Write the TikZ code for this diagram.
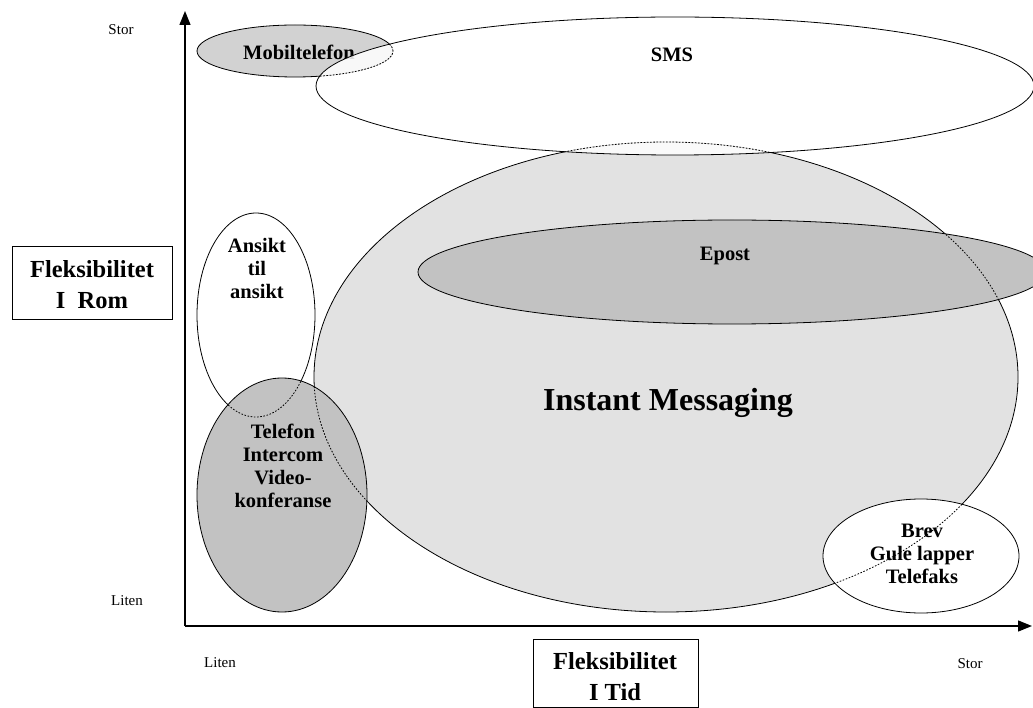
\documentclass[tikz,border=0pt]{standalone}
\usepackage{fontspec}
\setmainfont{Liberation Serif}
\usetikzlibrary{arrows.meta}

\definecolor{imgrey}{RGB}{226,226,226}
\definecolor{darkgrey}{RGB}{194,194,194}
\definecolor{mobgrey}{RGB}{210,210,210}

% ellipse outlines, in pixel-like units
\newcommand\elIM{(666,377) ellipse [x radius=352pt, y radius=235pt]}
\newcommand\elSMS{(675,86) ellipse [x radius=359pt, y radius=69pt]}
\newcommand\elMob{(295,51) ellipse [x radius=98pt, y radius=26pt]}
\newcommand\elEpost{(732,272) ellipse [x radius=314pt, y radius=52pt]}
\newcommand\elAnsikt{(256,315) ellipse [x radius=59pt, y radius=102pt]}
\newcommand\elTlf{(282,495) ellipse [x radius=85pt, y radius=117pt]}
\newcommand\elBrev{(921,556) ellipse [x radius=98pt, y radius=57pt]}

\tikzset{
  outline/.style={draw=black, line width=0.8pt},
  hidden/.style={draw=black, line width=0.8pt, dash pattern=on 1.6pt off 1.6pt},
  lbl/.style={font=\bfseries\fontsize{20.5}{23}\selectfont, align=center, inner sep=0pt},
  small/.style={font=\fontsize{15}{18}\selectfont, inner sep=0pt},
  titletext/.style={font=\bfseries\fontsize{24.5}{31}\selectfont, align=center, inner sep=0pt},
  axis/.style={line width=1.3pt, -{Triangle[length=14pt,width=11pt]}}
}

\begin{document}
\begin{tikzpicture}[x=1pt,y=-1pt]
\useasboundingbox (0,0) rectangle (1033,708);
\clip (0,0) rectangle (1033,708);

% Instant Messaging
\fill[imgrey] \elIM;
\draw[outline] \elIM;

% Epost, over Instant Messaging
\fill[darkgrey] \elEpost;
\draw[outline] \elEpost;
\begin{scope}
  \clip \elEpost;
  \draw[hidden] \elIM;
\end{scope}

% Mobiltelefon
\fill[mobgrey] \elMob;
\draw[outline] \elMob;
\node[lbl] (mob) at (299,52) {Mobiltelefon};

% SMS, over Mobiltelefon and Instant Messaging
\fill[white, opacity=0.85] \elSMS;
\draw[outline] \elSMS;
\begin{scope}
  \clip \elSMS;
  \draw[hidden] \elMob;
  \draw[hidden] \elIM;
\end{scope}

% Ansikt til ansikt
\fill[white] \elAnsikt;
\draw[outline] \elAnsikt;

% Telefon / Intercom / Videokonferanse
\fill[darkgrey] \elTlf;
\draw[outline] \elTlf;
\begin{scope}
  \clip \elTlf;
  \draw[hidden] \elIM;
  \draw[hidden] \elAnsikt;
\end{scope}

% Brev / Gule lapper / Telefaks
\fill[white] \elBrev;
\draw[outline] \elBrev;

% labels
\node[lbl] (sms) at (672,55) {SMS};
\node[lbl] (epost) at (725,256) {Epost};
\node[lbl, font=\bfseries\fontsize{32}{36}\selectfont] (im) at (668,403) {Instant Messaging};
\node[lbl] (ansikt) at (257,268) {Ansikt\\til\\ansikt};
\node[lbl] (tlf) at (283,466) {Telefon\\Intercom\\Video-\\konferanse};
\node[lbl] (brev) at (922,554) {Brev\\Gule lapper\\Telefaks};

\begin{scope}
  \clip \elBrev;
  \draw[hidden] \elIM;
\end{scope}

% axes
\coordinate (origin) at (185,626);
\coordinate (ytop) at (185,11);
\coordinate (xend) at (1032,626);
\draw[axis] (origin) -- (ytop);
\draw[axis] (origin) -- (xend);

\node[small] (ystor) at (121,30) {Stor};
\node[small] (yliten) at (127,601) {Liten};
\node[small] (xliten) at (220,663) {Liten};
\node[small] (xstor) at (970,664) {Stor};

% axis titles
\draw[line width=0.8pt] (12,246) rectangle (172,319);
\node[titletext] (rom) at (92,285) {Fleksibilitet\\I\ \ Rom};
\draw[line width=0.8pt] (533,639) rectangle (698,707);
\node[titletext] (tid) at (615,677) {Fleksibilitet\\I Tid};
\end{tikzpicture}
\end{document}
